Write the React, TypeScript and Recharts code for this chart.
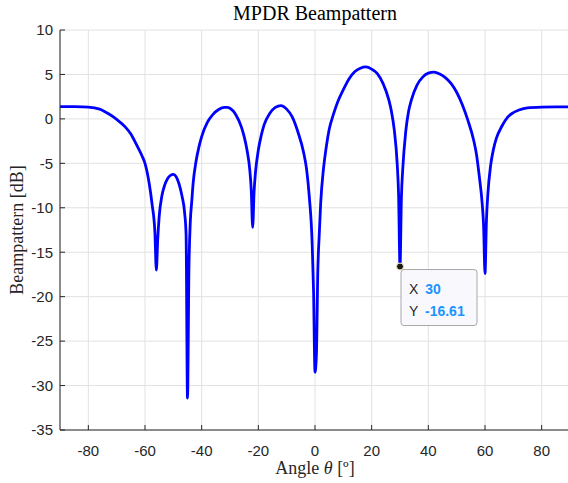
import { LineChart, Line, XAxis, YAxis, CartesianGrid, ReferenceDot } from 'recharts';

// angles in degrees, beampattern in dB
const angles = [
  -90, -85, -80, -76, -73, -70, -67, -65, -63, -61, -60, -58.5, -57.5, -56.5, -56, -55.5, -55, -54, -53, -52, -51,
  -50, -49, -48, -47, -46, -45.5, -45, -44.5, -44, -43.5, -43, -42, -41, -40, -38, -36, -34, -32, -31, -30,
  -28, -26, -25, -24, -23, -22.5, -22, -21.5, -21, -20, -19, -18, -16, -14, -12, -10, -8, -6, -4, -3,
  -2, -1, -0.5, 0, 0.5, 1, 1.5, 2, 3, 4, 5, 6.5, 8, 10, 12, 14, 16, 18, 20, 22,
  24, 26, 27, 28, 29, 29.5, 30, 30.5, 31, 32, 33, 34, 36, 38, 40, 42, 44, 46, 48, 50,
  52, 54, 56, 57, 58, 59, 59.5, 60, 60.5, 61, 62, 63, 64, 66, 68, 70, 72, 75, 80, 85, 90,
];

const beampattern = [
  1.38, 1.37, 1.33, 1.1, 0.6, -0.05, -0.9, -1.7, -2.9, -4.2, -5.0, -7.3, -9.6, -12.8, -17.0, -13.5, -11.0, -8.6, -7.4, -6.7, -6.35,
  -6.25, -6.5, -7.3, -8.6, -10.6, -13.0, -31.4, -17.0, -11.5, -9.3, -7.2, -4.8, -3.2, -2.0, -0.4, 0.5, 1.05, 1.3, 1.3, 1.2,
  0.5, -0.9, -2.0, -3.5, -5.8, -8.0, -12.2, -8.2, -6.0, -3.5, -1.9, -0.7, 0.6, 1.3, 1.5, 1.1, 0.2, -1.5, -3.8, -5.6,
  -8.8, -14.0, -19.5, -28.5, -26.5, -17.0, -13.0, -9.5, -5.6, -3.1, -1.2, 0.5, 1.9, 3.3, 4.5, 5.3, 5.7, 5.85, 5.6, 5.1,
  4.0, 2.2, 0.8, -1.3, -5.0, -8.5, -16.61, -8.8, -5.5, -1.5, 0.8, 2.1, 3.8, 4.7, 5.15, 5.25, 5.05, 4.65, 4.0, 3.0,
  1.6, -0.2, -2.4, -4.0, -6.5, -9.5, -12.0, -17.4, -11.5, -8.5, -5.2, -3.4, -2.2, -0.8, 0.2, 0.7, 1.0, 1.25, 1.33, 1.35, 1.35,
];

const xTicks = [-80, -60, -40, -20, 0, 20, 40, 60, 80];
const yTicks = [10, 5, 0, -5, -10, -15, -20, -25, -30, -35];

const tipX = 30;
const tipY = -16.61;

const data = angles.map((a, i) => ({ angle: a, bp: beampattern[i] }));

const axisColor = '#262626';
const tickFont = { fill: axisColor, fontSize: 15, fontFamily: 'Liberation Sans, Arial, sans-serif' };
const serif = '"Liberation Serif", "Times New Roman", serif';

const NoTick = () => <g />;

const DataTip = (props: any) => {
  const { cx, cy } = props;
  if (cx == null || cy == null) return null;
  const bx = cx + 1;
  const by = cy + 3;
  return (
    <g>
      <rect x={bx} y={by} width={76} height={56} rx={3} fill="#f9f9fd" stroke="#a8a8a8" strokeWidth={1} />
      <circle cx={cx} cy={cy} r={3.5} fill="#1a1a1a" stroke="#f5f0b0" strokeWidth={1} />
      <text x={bx + 8} y={by + 24} fontSize={14} fontFamily="Liberation Sans, Arial, sans-serif" fill={axisColor}>
        X <tspan fill="#1a94ff" fontWeight="bold" dx={3}>{tipX}</tspan>
      </text>
      <text x={bx + 8} y={by + 46} fontSize={14} fontFamily="Liberation Sans, Arial, sans-serif" fill={axisColor}>
        Y <tspan fill="#1a94ff" fontWeight="bold" dx={3}>{tipY.toFixed(2)}</tspan>
      </text>
    </g>
  );
};

export default function App() {
  return (
    <div style={{ position: 'absolute', left: 0, top: 0, width: 568, height: 483, overflow: 'hidden', background: '#fff' }}>
      <LineChart width={572} height={483} data={data} margin={{ top: 30, right: 0, bottom: 0, left: 0 }}>
        <CartesianGrid stroke="#e2e2e2" strokeWidth={1} />
        <XAxis
          dataKey="angle"
          type="number"
          domain={[-90, 90]}
          ticks={xTicks}
          allowDataOverflow
          height={53}
          stroke={axisColor}
          tickSize={-5}
          tickMargin={20}
          tick={tickFont}
        />
        <XAxis
          xAxisId="top"
          orientation="top"
          type="number"
          domain={[-90, 90]}
          ticks={xTicks}
          height={0}
          stroke={axisColor}
          tickSize={-5}
          tick={NoTick}
        />
        <YAxis
          type="number"
          domain={[-35, 10]}
          ticks={yTicks}
          allowDataOverflow
          width={60}
          stroke={axisColor}
          tickSize={-5}
          tickMargin={12}
          tick={tickFont}
        />
        <YAxis
          yAxisId="right"
          orientation="right"
          type="number"
          domain={[-35, 10]}
          ticks={yTicks}
          width={2}
          stroke={axisColor}
          tickSize={-5}
          tick={NoTick}
        />
        <Line
          dataKey="bp"
          type="monotone"
          stroke="#0000ff"
          strokeWidth={2.8}
          dot={false}
          isAnimationActive={false}
        />
        <ReferenceDot x={tipX} y={tipY} shape={DataTip} ifOverflow="visible" />
      </LineChart>
      <div style={{ position: 'absolute', left: 0, width: 630, top: 2, textAlign: 'center', fontFamily: serif, fontSize: 20, color: '#000' }}>
        MPDR Beampattern
      </div>
      <div style={{ position: 'absolute', left: 0, width: 630, top: 458, textAlign: 'center', fontFamily: serif, fontSize: 18, color: axisColor }}>
        Angle <i>θ</i> [º]
      </div>
      <div
        style={{
          position: 'absolute',
          left: 17,
          top: 230,
          transform: 'translate(-50%, -50%) rotate(-90deg)',
          whiteSpace: 'nowrap',
          fontFamily: serif,
          fontSize: 18,
          color: axisColor,
        }}
      >
        Beampattern [dB]
      </div>
    </div>
  );
}
